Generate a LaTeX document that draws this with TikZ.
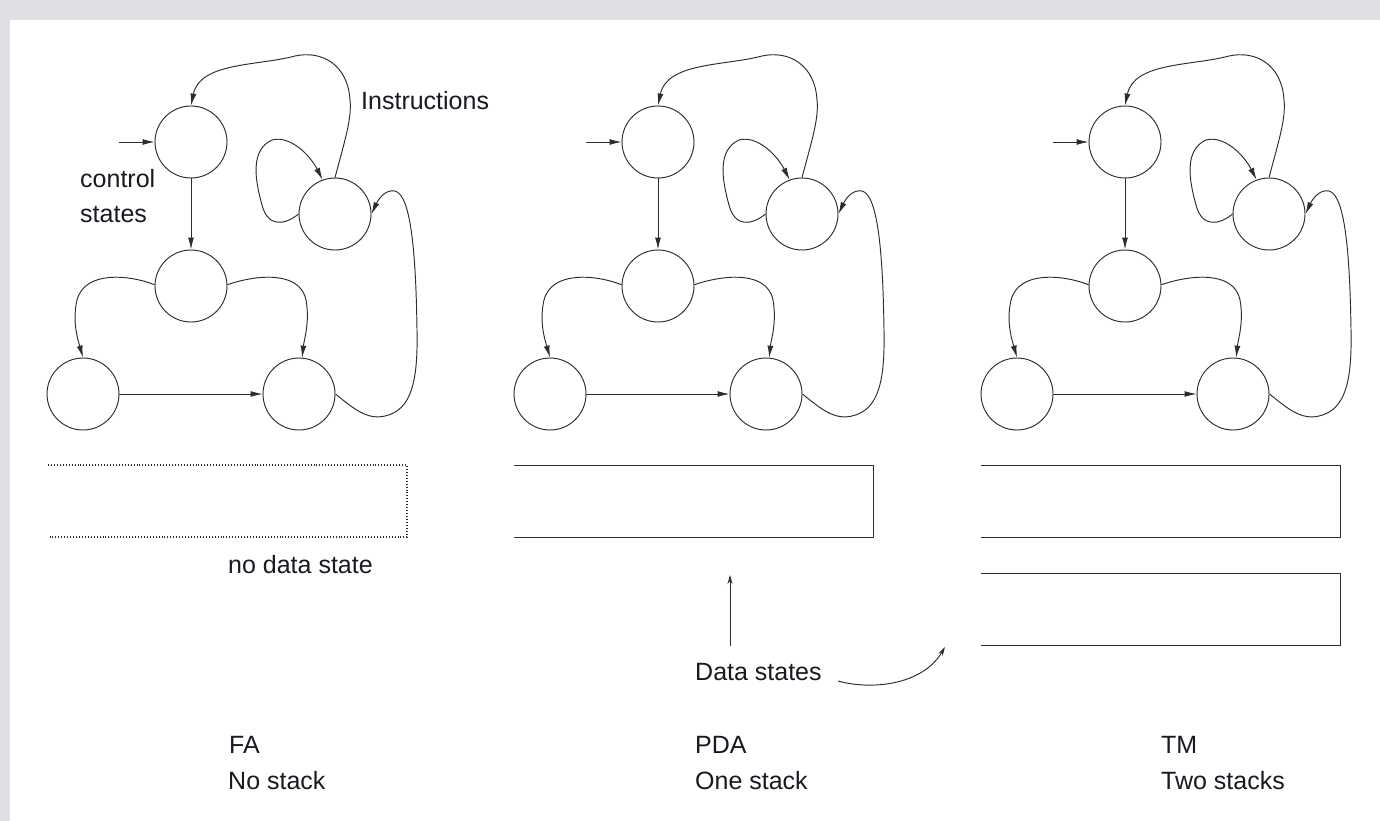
\documentclass[tikz,border=0pt]{standalone}
\usepackage{fontspec}
\setmainfont{Liberation Sans}
\usetikzlibrary{arrows.meta}
\definecolor{ink}{RGB}{45,45,45}
\definecolor{txt}{RGB}{25,25,35}
\definecolor{frame}{RGB}{224,223,227}

\tikzset{
  state/.style={circle, draw=ink, line width=0.95pt, minimum size=72pt, inner sep=0pt},
  trans/.style={draw=ink, line width=0.95pt, -{Latex[length=12pt,width=6pt]}},
  pointer/.style={draw=ink, line width=0.95pt, -{Stealth[length=9pt,width=5pt,inset=3pt]}},
  tape/.style={draw=ink, line width=0.95pt},
  lbl/.style={font=\fontsize{25}{30}\selectfont, text=txt, inner sep=0pt, anchor=base west},
}

% one state machine: #1 = name prefix, #2 = horizontal offset
\newcommand\automaton[2]{%
  \begin{scope}[xshift=#2pt]
    \node[state] (#1a) at (191,142) {};
    \node[state] (#1b) at (335,214) {};
    \node[state] (#1c) at (191,286) {};
    \node[state] (#1d) at (83,394) {};
    \node[state] (#1e) at (299,394) {};
    \coordinate (#1in) at (119,142);
    % start arrow
    \draw[trans] (#1in) -- (#1a.west);
    % long return arc to the start state
    \draw[trans] (#1b.north) .. controls (345,140) and (352,118) .. (350,100)
       .. controls (348,65) and (322,50) .. (295,56)
       .. controls (258,66) and (200,62) .. (#1a.north);
    % self loop
    \draw[trans] (#1b.west) .. controls (285,225) and (268,228) .. (262,205)
       .. controls (255,180) and (250,150) .. (272,140)
       .. controls (290,135) and (310,155) .. (#1b.110);
    \draw[trans] (#1a.south) -- (#1c.north);
    \draw[trans] (#1c.178) .. controls (130,275) and (85,270) .. (77,300)
       .. controls (72,322) and (78,340) .. (#1d.north);
    \draw[trans] (#1c.2) .. controls (255,275) and (300,270) .. (306,300)
       .. controls (310,322) and (304,340) .. (#1e.85);
    \draw[trans] (#1d.east) -- (#1e.west);
    \draw[trans] (#1e.east) .. controls (355,410) and (368,420) .. (385,416)
       .. controls (412,410) and (418,380) .. (417,330)
       .. controls (416,262) and (412,195) .. (395,191)
       .. controls (385,189) and (378,200) .. (#1b.east);
  \end{scope}}

\begin{document}
\begin{tikzpicture}[x=1pt, y=-1pt]
  \useasboundingbox (0,0) rectangle (1380,821);
  \fill[white] (0,0) rectangle (1380,821);
  % page edges
  \fill[frame] (0,0) rectangle (1380,20);
  \fill[frame] (0,0) rectangle (10,821);

  \automaton{fa}{0}
  \automaton{pda}{467}
  \automaton{tm}{934}

  \node[lbl] (ctl) at (80,187) {control};
  \node[lbl] (sts) at (80,222) {states};
  \node[lbl] (ins) at (361,110) {Instructions};

  % data stores
  \draw[tape, dotted, line width=1.1pt] (48,465) -| (407,537) -- (50,537);
  \draw[tape] (514,465) -| (873,537) -- (514,537);
  \draw[tape] (981,465) -| (1340,537) -- (981,537);
  \draw[tape] (981,573) -| (1340,645) -- (981,645);

  \node[lbl] (nds) at (228,573) {no data state};
  \node[lbl] (dst) at (695,680) {Data states};
  \coordinate (up0) at (730,646);
  \coordinate (up1) at (730,575);
  \coordinate (cv0) at (838,681);
  \coordinate (cv1) at (945,647);
  \draw[pointer] (up0) -- (up1);
  \draw[pointer] (cv0) .. controls (870,690) and (922,686) .. (cv1);

  \node[lbl] (fa) at (229,753) {FA};
  \node[lbl] (fas) at (228,789) {No stack};
  \node[lbl] (pda) at (695,753) {PDA};
  \node[lbl] (pdas) at (695,789) {One stack};
  \node[lbl] (tm) at (1161,753) {TM};
  \node[lbl] (tms) at (1161,789) {Two stacks};
\end{tikzpicture}
\end{document}
